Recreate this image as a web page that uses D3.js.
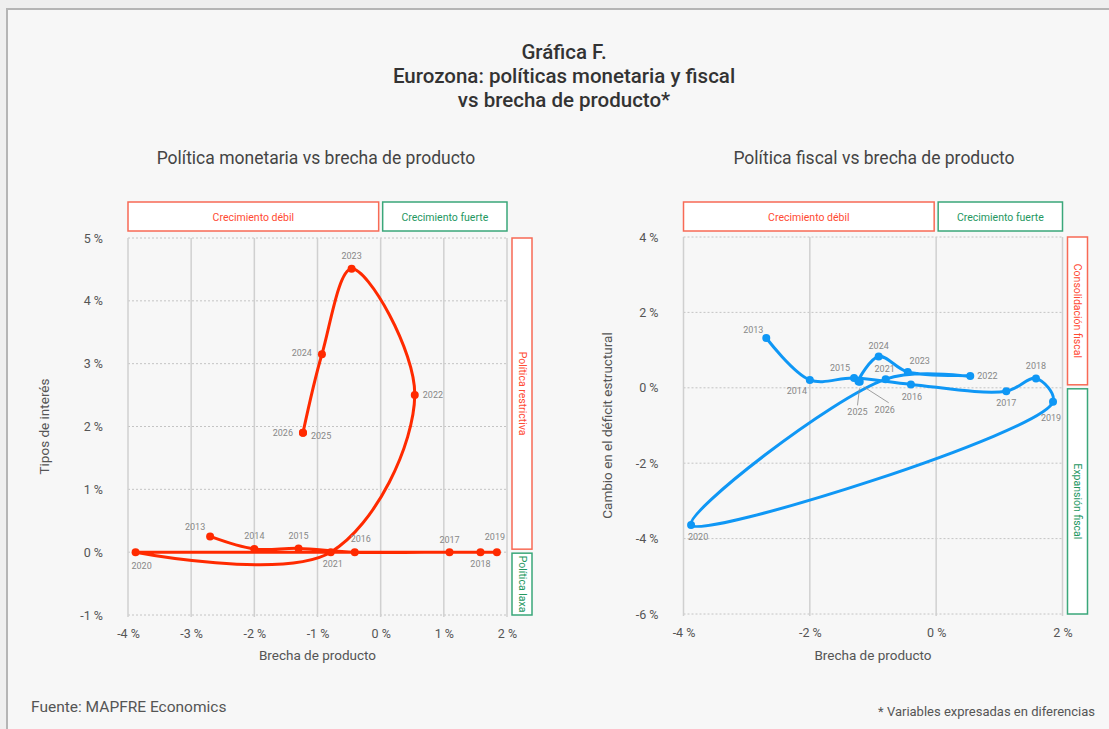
<!DOCTYPE html>
<html>
<head>
<meta charset="utf-8">
<script src="https://cdn.jsdelivr.net/npm/d3@7"></script>
<style>
  html, body { margin: 0; padding: 0; background: #efefef; }
  svg text { font-family: Roboto, "DejaVu Sans", sans-serif; }
</style>
</head>
<body>
<div id="chart"></div>
<script>
// data
const years = [2013, 2014, 2015, 2016, 2017, 2018, 2019, 2020, 2021, 2022, 2023, 2024, 2025, 2026]
const gapMon = [-2.70, -2.00, -1.30, -0.41, 1.09, 1.58, 1.84, -3.88, -0.79, 0.54, -0.46, -0.93, -1.23, -1.23]
const rates = [0.25, 0.05, 0.06, 0.00, 0.00, 0.00, 0.00, 0.00, 0.00, 2.50, 4.51, 3.15, 1.90, 1.90]
const gapFis = [-2.69, -2.00, -1.30, -0.40, 1.11, 1.58, 1.85, -3.88, -0.80, 0.54, -0.45, -0.91, -1.23, -1.21]
const deficit = [1.32, 0.21, 0.26, 0.09, -0.09, 0.25, -0.37, -3.64, 0.23, 0.31, 0.42, 0.83, 0.17, 0.16]

const monXTicks = [-4, -3, -2, -1, 0, 1, 2]
const monYTicks = [-1, 0, 1, 2, 3, 4, 5]
const fisXTicks = [-4, -2, 0, 2]
const fisYTicks = [-6, -4, -2, 0, 2, 4]

// label placement (dx, dy, anchor) per year
const monLabelPos = {
  2013: [-15, -9], 2014: [0, -13], 2015: [0, -12], 2016: [6, -13], 2017: [0, -12],
  2018: [0, 12], 2019: [-2, -15], 2020: [6, 14], 2021: [2, 12], 2022: [8, 0, 'start'],
  2023: [0, -13], 2024: [-10, -1, 'end'], 2025: [8, 3, 'start'], 2026: [-10, 0, 'end']
}
const fisLabelPos = {
  2013: [-13, -8], 2014: [-13, 11], 2015: [-14, -10], 2016: [1, 13], 2017: [0, 12],
  2018: [0, -12], 2019: [-2, 16], 2020: [7, 12], 2021: [-1, -10], 2022: [7, 0, 'start'],
  2023: [12, -11], 2024: [0, -11], 2025: [-1, 31, 'middle', [1, 7, -1, 24]],
  2026: [25, 28, 'middle', [4, 5, 29, 21]]
}

const RED = '#ff2a00', BLUE = '#0f97f5'
const BOX_RED = '#f86a55', BOX_GREEN = '#3aa77a'
const TXT_RED = '#ff4a33', TXT_GREEN = '#24975f'

const W = 1109, H = 729
const svg = d3.select('#chart').append('svg').attr('width', W).attr('height', H)

svg.append('rect').attr('width', W).attr('height', H).attr('fill', '#efefef')
svg.append('rect').attr('x', 7).attr('y', 9).attr('width', W + 10).attr('height', H + 10)
  .attr('fill', '#f7f7f7').attr('stroke', '#b5b5b5').attr('stroke-width', 2)

// main title
const title = ['Gráfica F.', 'Eurozona: políticas monetaria y fiscal', 'vs brecha de producto*']
title.forEach((t, i) => {
  svg.append('text').attr('x', 564).attr('y', 59 + i * 24).attr('text-anchor', 'middle')
    .attr('font-size', 20.5).attr('font-weight', 500).attr('fill', '#333').text(t)
})

function panel(opt) {
  const x = d3.scaleLinear().domain(opt.xDomain).range(opt.xRange)
  const y = d3.scaleLinear().domain(opt.yDomain).range(opt.yRange)
  const g = svg.append('g')
  const [x0, x1] = opt.xRange
  const [yb, yt] = opt.yRange

  g.append('text').attr('x', opt.subX).attr('y', 164).attr('text-anchor', 'middle')
    .attr('font-size', 17.5).attr('fill', '#444').text(opt.subtitle)

  // horizontal dotted grid
  g.selectAll('.hg').data(opt.yTicks).enter().append('line')
    .attr('x1', x0).attr('x2', x1).attr('y1', d => y(d)).attr('y2', d => y(d))
    .attr('stroke', '#c4c4c4').attr('stroke-dasharray', '2,2').attr('stroke-width', 1)
  // vertical solid grid
  g.selectAll('.vg').data(opt.xTicks).enter().append('line')
    .attr('x1', d => x(d)).attr('x2', d => x(d)).attr('y1', yt).attr('y2', yb + 2)
    .attr('stroke', '#d0d0d0').attr('stroke-width', 1.5)

  // axes (labels only)
  const ax = g.append('g').attr('transform', `translate(0,${yb + 11})`)
    .call(d3.axisBottom(x).tickValues(opt.xTicks).tickSize(0).tickFormat(d => d + ' %'))
  const ay = g.append('g').attr('transform', `translate(${x0 - 22},0)`)
    .call(d3.axisLeft(y).tickValues(opt.yTicks).tickSize(0).tickFormat(d => d + ' %'))
  ;[ax, ay].forEach(a => {
    a.select('.domain').remove()
    a.selectAll('text').attr('font-size', 12.5).attr('fill', '#555')
      .style('font-family', 'Roboto, sans-serif')
  })

  g.append('text').attr('x', (x0 + x1) / 2).attr('y', 660).attr('text-anchor', 'middle')
    .attr('font-size', 13.5).attr('fill', '#555').text('Brecha de producto')
  g.append('text').attr('transform', `translate(${opt.yTitleX},${(yt + yb) / 2}) rotate(-90)`)
    .attr('text-anchor', 'middle').attr('font-size', 13.5).attr('fill', '#555').text(opt.yTitle)

  // regime boxes
  const x0px = x(0)
  const boxes = [
    { x: x0, y: 202, w: x0px - 2 - x0, h: 29, c: BOX_RED, t: TXT_RED, label: 'Crecimiento débil' },
    { x: x0px + 2, y: 202, w: x1 - x0px - 2, h: 29, c: BOX_GREEN, t: TXT_GREEN, label: 'Crecimiento fuerte' }
  ]
  boxes.forEach(b => {
    g.append('rect').attr('x', b.x).attr('y', b.y).attr('width', b.w).attr('height', b.h)
      .attr('fill', '#fff').attr('stroke', b.c).attr('stroke-width', 1.5)
    g.append('text').attr('x', b.x + b.w / 2).attr('y', b.y + b.h / 2 + 4)
      .attr('text-anchor', 'middle').attr('font-size', 10.5).attr('fill', b.t).text(b.label)
  })
  const y0px = y(0)
  const side = [
    { y1: yt, y2: y0px - 3, c: BOX_RED, t: TXT_RED, label: opt.sideTop },
    { y1: y0px + 1, y2: yb, c: BOX_GREEN, t: TXT_GREEN, label: opt.sideBottom }
  ]
  side.forEach(b => {
    g.append('rect').attr('x', x1 + 5).attr('y', b.y1).attr('width', 20).attr('height', b.y2 - b.y1)
      .attr('fill', '#fff').attr('stroke', b.c).attr('stroke-width', 1.5)
    g.append('text').attr('transform', `translate(${x1 + 11.5},${(b.y1 + b.y2) / 2}) rotate(90)`)
      .attr('text-anchor', 'middle').attr('font-size', 10.5).attr('fill', b.t).text(b.label)
  })

  // series
  const pts = years.map((yr, i) => ({ yr, gx: opt.xs[i], gy: opt.ys[i] }))
  const line = d3.line().x(d => x(d.gx)).y(d => y(d.gy)).curve(d3.curveCatmullRom.alpha(0.5))
  g.append('path').datum(pts).attr('d', line).attr('fill', 'none')
    .attr('stroke', opt.color).attr('stroke-width', 3).attr('stroke-linejoin', 'round')
  g.selectAll('.dot').data(pts).enter().append('circle')
    .attr('cx', d => x(d.gx)).attr('cy', d => y(d.gy)).attr('r', 4).attr('fill', opt.color)

  pts.forEach(d => {
    const p = opt.labels[d.yr]
    const px = x(d.gx), py = y(d.gy)
    if (p[3]) {
      const l = p[3]
      g.append('line').attr('x1', px + l[0]).attr('y1', py + l[1]).attr('x2', px + l[2]).attr('y2', py + l[3])
        .attr('stroke', '#888').attr('stroke-width', 0.8)
    }
    g.append('text').attr('x', px + p[0]).attr('y', py + p[1] + 3)
      .attr('text-anchor', p[2] || 'middle').attr('font-size', 9).attr('fill', '#888').text(d.yr)
  })
}

panel({
  xDomain: [-4, 2], xRange: [128, 507], yDomain: [-1, 5], yRange: [615, 238],
  xTicks: monXTicks, yTicks: monYTicks, xs: gapMon, ys: rates, color: RED,
  labels: monLabelPos, subtitle: 'Política monetaria vs brecha de producto', subX: 316,
  yTitle: 'Tipos de interés', yTitleX: 49,
  sideTop: 'Política restrictiva', sideBottom: 'Política laxa'
})

panel({
  xDomain: [-4, 2], xRange: [683.5, 1062.5], yDomain: [-6, 4], yRange: [614, 237],
  xTicks: fisXTicks, yTicks: fisYTicks, xs: gapFis, ys: deficit, color: BLUE,
  labels: fisLabelPos, subtitle: 'Política fiscal vs brecha de producto', subX: 874,
  yTitle: 'Cambio en el déficit estructural', yTitleX: 612,
  sideTop: 'Consolidación fiscal', sideBottom: 'Expansión fiscal'
})

svg.append('text').attr('x', 31).attr('y', 712).attr('font-size', 15.5).attr('fill', '#555')
  .text('Fuente: MAPFRE Economics')
svg.append('text').attr('x', 1095).attr('y', 716).attr('text-anchor', 'end').attr('font-size', 13)
  .attr('fill', '#555').text('* Variables expresadas en diferencias')
</script>
</body>
</html>
